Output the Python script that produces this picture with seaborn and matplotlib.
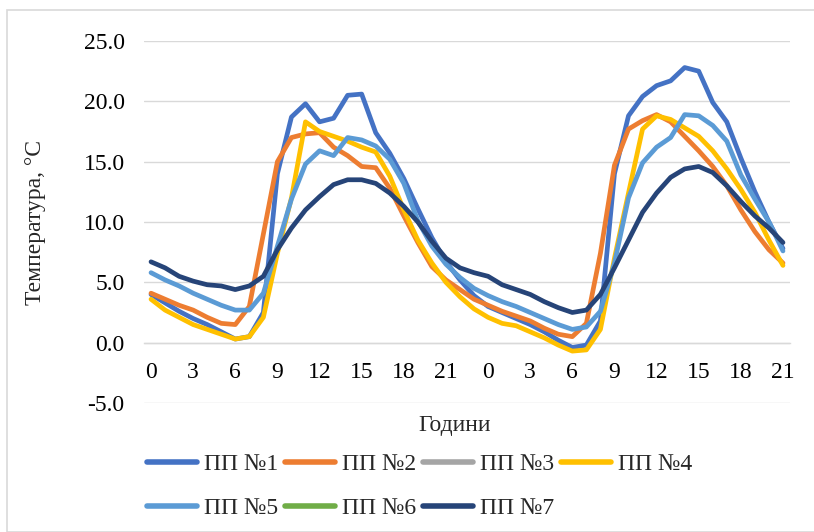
import numpy as np
import pandas as pd
import matplotlib
matplotlib.use("Agg")
import matplotlib.pyplot as plt
from matplotlib.lines import Line2D
from matplotlib.patches import Rectangle
import seaborn as sns

# ---- data ----
hour_labels = [str(h) for h in range(24)] + [str(h) for h in range(22)]
series_names = ["ПП №1", "ПП №2", "ПП №3", "ПП №4", "ПП №5", "ПП №6", "ПП №7"]
colors = ["#4472C4", "#ED7D31", "#A5A5A5", "#FFC000", "#5B9BD5", "#70AD47", "#264478"]

pp1 = [4.0, 3.3, 2.6, 2.0, 1.5, 0.9, 0.3, 0.5, 2.5, 14.0, 18.7, 19.8, 18.3, 18.6, 20.5, 20.6,
       17.4, 15.7, 13.6, 11.1, 8.7, 6.7, 5.2, 3.9,
       3.0, 2.5, 2.0, 1.5, 0.9, 0.2, -0.4, -0.2, 1.8, 14.0, 18.8, 20.4, 21.3, 21.7, 22.8, 22.5,
       19.9, 18.3, 15.3, 12.5, 10.0, 7.8]
pp2 = [4.1, 3.6, 3.1, 2.7, 2.1, 1.6, 1.5, 3.0, 9.0, 15.0, 17.0, 17.3, 17.4, 16.2, 15.5, 14.6,
       14.5, 12.8, 10.5, 8.3, 6.3, 5.2, 4.4, 3.6,
       3.1, 2.6, 2.2, 1.8, 1.2, 0.7, 0.5, 1.6, 7.4, 14.7, 17.7, 18.4, 18.9, 18.3, 17.1, 15.9,
       14.6, 13.0, 11.0, 9.2, 7.7, 6.6]
pp3 = []
pp4 = [3.6, 2.7, 2.1, 1.5, 1.1, 0.7, 0.3, 0.5, 2.1, 7.4, 12.0, 18.3, 17.5, 17.1, 16.7, 16.2,
       15.8, 13.8, 11.0, 8.5, 6.6, 5.0, 3.8, 2.8,
       2.1, 1.6, 1.4, 0.9, 0.4, -0.2, -0.7, -0.6, 1.1, 7.0, 12.4, 17.7, 18.8, 18.5, 17.8, 17.1,
       15.9, 14.4, 12.7, 10.8, 8.5, 6.4]
pp5 = [5.8, 5.2, 4.7, 4.1, 3.6, 3.1, 2.7, 2.7, 4.1, 8.0, 11.9, 14.8, 15.9, 15.5, 17.0, 16.8,
       16.3, 15.2, 13.2, 10.1, 8.0, 6.5, 5.4, 4.5,
       3.9, 3.4, 3.0, 2.5, 2.0, 1.5, 1.1, 1.3, 2.6, 6.6, 12.0, 14.9, 16.2, 17.0, 18.9, 18.8,
       18.0, 16.7, 13.9, 11.9, 10.0, 7.6]
pp6 = []
pp7 = [6.7, 6.2, 5.5, 5.1, 4.8, 4.7, 4.4, 4.7, 5.5, 7.7, 9.5, 11.0, 12.1, 13.1, 13.5, 13.5,
       13.2, 12.4, 11.3, 10.0, 8.4, 7.0, 6.2, 5.8,
       5.5, 4.8, 4.4, 4.0, 3.4, 2.9, 2.5, 2.7, 4.0, 6.2, 8.5, 10.8, 12.4, 13.7, 14.4, 14.6,
       14.1, 13.0, 11.7, 10.5, 9.5, 8.3]

all_series = [pp1, pp2, pp3, pp4, pp5, pp6, pp7]

rows = []
for name, vals in zip(series_names, all_series):
    for i, v in enumerate(vals):
        rows.append({"idx": i, "temp": v, "series": name})
df = pd.DataFrame(rows)

# ---- plot ----
sns.set_theme(style="white")
plt.rcParams["font.family"] = ["Liberation Serif", "DejaVu Serif"]

W, H = 814, 532
fig = plt.figure(figsize=(W / 100, H / 100), dpi=100)
ax = fig.add_axes([144 / W, 1 - 403 / H, (790 - 144) / W, (403 - 41) / H])

palette = {n: c for n, c in zip(series_names, colors)}
present = [n for n, v in zip(series_names, all_series) if len(v) > 0]
sns.lineplot(data=df, x="idx", y="temp", hue="series", hue_order=present,
             palette=palette, linewidth=3.4, ax=ax, legend=False,
             sort=False, estimator=None)

ax.set_xlim(-0.5, len(hour_labels) - 0.5)
ax.set_ylim(-5, 25)
ax.set_yticks(np.arange(-5, 25.1, 5))
ax.set_yticklabels([f"{v:.1f}" for v in np.arange(-5, 25.1, 5)])
ax.set_xticks(range(0, len(hour_labels), 3))
ax.set_xticklabels([hour_labels[i] for i in range(0, len(hour_labels), 3)])

ax.grid(axis="y", color="#D9D9D9", linewidth=1.0)
ax.grid(axis="x", visible=False)
ax.set_axisbelow(True)
for s in ["top", "right", "left"]:
    ax.spines[s].set_visible(False)
ax.spines["bottom"].set_position(("data", 0))
ax.spines["bottom"].set_color("#D9D9D9")
ax.spines["bottom"].set_linewidth(1.0)
ax.spines["bottom"].set_zorder(0.5)
ax.tick_params(axis="both", length=0, labelsize=17, colors="black")
ax.tick_params(axis="y", pad=14)
ax.tick_params(axis="x", pad=14)
ax.set_xlabel("")
ax.set_ylabel("")

fig.text(455 / W, 1 - 425 / H, "Години", ha="center", va="center", fontsize=17)
fig.text(36 / W, 1 - 222 / H, "Температура, °С", ha="center", va="center",
         rotation=90, fontsize=17)

# legend: row-major order over 4 columns (matplotlib fills column-wise)
order = [0, 4, 1, 5, 2, 6, 3]
handles = [Line2D([0], [0], color=colors[i], linewidth=4) for i in order]
labels = [series_names[i] for i in order]
fig.legend(handles, labels, loc="upper left",
           bbox_to_anchor=(138 / W, 1 - 444 / H), ncol=4, frameon=False,
           fontsize=17, handlelength=2.1, handletextpad=0.3,
           columnspacing=0.3, labelspacing=0.95, borderaxespad=0)

fig.patches.append(Rectangle((7 / W, 0), 1.0, 1 - 10 / H, transform=fig.transFigure,
                             fill=False, edgecolor="#D9D9D9", linewidth=1.2))

fig.savefig("out.png", dpi=100)
